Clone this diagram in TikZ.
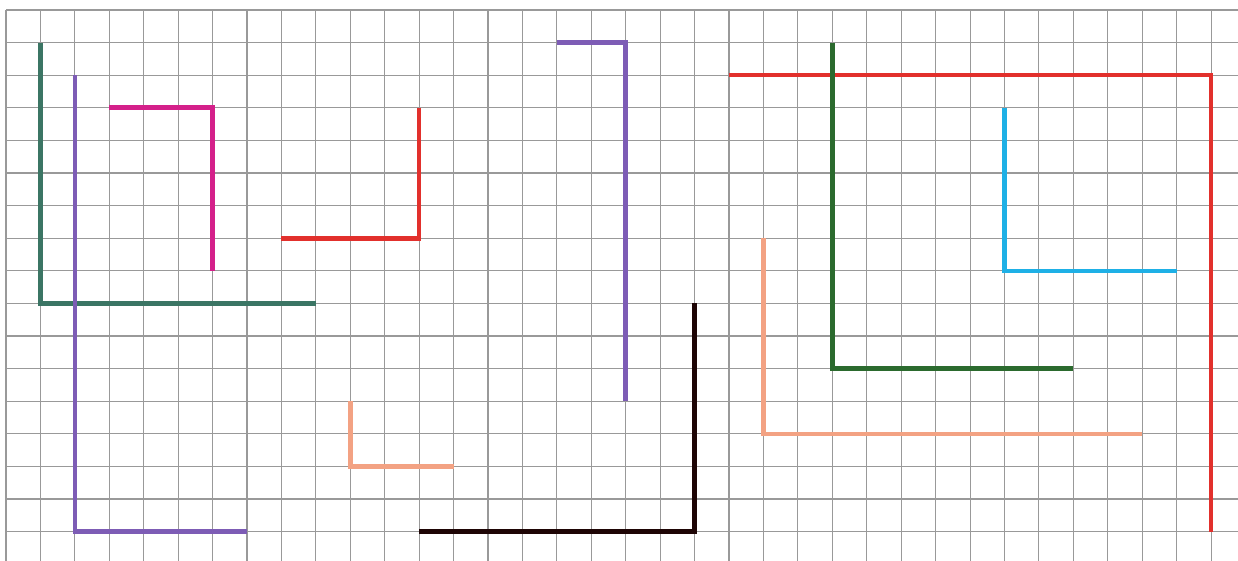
\documentclass[tikz,border=0pt]{standalone}
\begin{document}
\begin{tikzpicture}[x=34.43pt,y=-32.6pt,
  gridline/.style={draw=gray!80,line width=1.1pt},
  ell/.style={line width=4.6pt,line join=miter},
]
\definecolor{cteal}{HTML}{3B7564}
\definecolor{cdgreen}{HTML}{2B6A2E}
\definecolor{cpurple}{HTML}{7D5CB5}
\definecolor{cmagenta}{HTML}{D4208A}
\definecolor{cred}{HTML}{E2302C}
\definecolor{csalmon}{HTML}{F3A283}
\definecolor{ccyan}{HTML}{1EB0E6}
\definecolor{cblack}{HTML}{1E0505}
\useasboundingbox[fill=white] (-0.17427,-0.30675) rectangle (35.7827,16.9018);
% grid
\foreach \i in {0,...,35} \draw[gridline] (\i,0) -- (\i,16.9018);
\foreach \j in {0,...,16} \draw[gridline] (0,\j) -- (35.7827,\j);
% L shapes
\draw[ell,cteal] (1,1) -- (1,9) -- (9,9);
\draw[ell,cpurple] (2,2) -- (2,16) -- (7,16);
\draw[ell,cmagenta] (3,3) -- (6,3) -- (6,8);
\draw[ell,cred] (12,3) -- (12,7) -- (8,7);
\draw[ell,csalmon] (10,12) -- (10,14) -- (13,14);
\draw[ell,cpurple] (16,1) -- (18,1) -- (18,12);
\draw[ell,cblack] (20,9) -- (20,16) -- (12,16);
\draw[ell,cred] (21,2) -- (35,2) -- (35,16);
\draw[ell,cdgreen] (24,1) -- (24,11) -- (31,11);
\draw[ell,ccyan] (29,3) -- (29,8) -- (34,8);
\draw[ell,csalmon] (22,7) -- (22,13) -- (33,13);
\end{tikzpicture}
\end{document}
